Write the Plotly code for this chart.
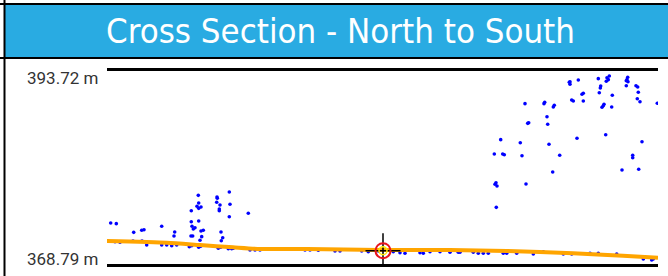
import plotly.graph_objects as go

# ---------------- data ----------------
# elevation range of the section (m)
elev_top = 393.72
elev_bottom = 368.79
dist_max = 551  # section length (m)

# vegetation / returns above ground (left cluster)
veg_left_dist = [3.7, 9.3, 26.7, 34.7, 37.0, 54.7, 67.7, 67.0, 84.3, 91.3, 91.7, 90.0, 91.7, 94.0,
                 84.3, 91.7, 85.0, 86.3, 88.0, 94.0, 96.3, 84.0, 85.7, 94.7, 93.0, 110.0, 110.3,
                 109.7, 113.0, 112.3, 112.3, 122.3, 123.0, 122.3, 114.0, 115.7, 114.3, 141.3]
veg_left_elev = [374.09, 374.00, 372.88, 373.14, 373.22, 373.66, 372.92, 372.41, 375.67, 377.66,
                 376.67, 376.24, 375.98, 376.15, 374.25, 374.34, 373.66, 373.31, 373.48, 373.05,
                 373.14, 372.41, 372.41, 372.32, 371.85, 377.44, 377.28, 376.76, 376.41, 375.89,
                 375.67, 378.09, 376.50, 374.90, 372.92, 372.19, 371.80, 375.34]

# vegetation / returns above ground (right cluster)
veg_right_dist = [462.3, 418.0, 437.0, 437.7, 446.3, 447.3, 440.0, 421.7, 420.7, 440.7, 393.7,
                  413.3, 442.0, 463.0, 463.0, 471.3, 491.3, 502.3, 500.0, 501.3, 499.3, 493.7,
                  493.3, 492.3, 520.7, 520.0, 521.0, 519.3, 519.3, 529.0, 530.7, 531.3, 476.3,
                  475.0, 505.3, 464.7, 466.3, 476.3, 530.3, 533.0, 550.3, 497.0, 496.3, 495.0,
                  504.7, 470.0, 498.7, 535.0, 387.3, 395.7, 397.3, 415.0, 452.7, 525.7, 525.7,
                  445.7, 515.0, 531.7, 389.0, 388.0, 390.0, 419.0, 389.3]
veg_right_elev = [392.26, 389.50, 389.50, 389.68, 389.07, 389.29, 387.82, 387.04, 386.96, 386.84,
                  384.85, 384.46, 384.25, 392.34, 392.00, 392.56, 392.73, 393.07, 392.85, 392.60,
                  392.39, 391.78, 391.52, 390.92, 392.91, 392.60, 392.34, 392.47, 391.82, 391.82,
                  391.65, 390.97, 390.84, 390.71, 390.58, 389.97, 389.85, 389.85, 390.14, 389.75,
                  389.55, 389.42, 389.24, 389.03, 389.07, 385.03, 385.49, 384.59, 383.00, 383.00,
                  382.91, 382.78, 382.83, 382.83, 382.52, 380.67, 380.93, 381.02, 379.29, 379.09,
                  378.87, 379.12, 376.11]

# ground returns
ground_dist = [1.0, 8.0, 13.0, 26.0, 35.0, 39.7, 54.7, 59.7, 64.7, 69.7, 82.3, 84.7, 91.7, 93.7,
               111.3, 113.7, 121.3, 124.7, 126.3, 143.0, 148.0, 153.0, 169.7, 174.7, 181.3, 198.0,
               203.0, 211.3, 228.0, 233.0, 254.7, 261.3, 271.3, 286.3, 293.0, 298.0, 313.0, 316.3,
               323.0, 333.0, 343.0, 351.3, 353.0, 366.3, 371.3, 376.3, 381.3, 396.3, 399.7, 409.7,
               426.3, 436.3, 456.3, 464.7, 483.0, 491.3, 509.7, 536.3, 544.7, 546.3]
ground_elev = [371.76, 371.67, 371.59, 371.76, 371.76, 371.24, 371.24, 371.24, 371.15, 371.24,
               371.03, 371.15, 370.95, 371.08, 370.82, 370.95, 370.77, 370.77, 370.82, 370.60,
               370.60, 370.60, 370.73, 370.73, 370.69, 370.60, 370.60, 370.56, 370.47, 370.47,
               370.47, 370.38, 370.47, 370.38, 370.25, 370.17, 370.25, 370.17, 370.38, 370.38,
               370.30, 370.30, 370.30, 370.30, 370.17, 370.17, 370.17, 370.17, 370.17, 370.17,
               370.08, 370.38, 370.08, 370.08, 370.17, 370.17, 370.08, 369.44, 369.31, 369.44]

# terrain profile line
profile_dist = [0, 60, 93, 126, 153, 200, 273, 343, 400, 466, 516, 551]
profile_elev = [371.76, 371.54, 371.24, 370.95, 370.73, 370.73, 370.60, 370.60, 370.47, 370.17,
                369.86, 369.60]

# current location marker
target_dist = [276]
target_elev = [370.51]

title_text = "Cross Section - North to South"
label_top = "393.72 m"
label_bottom = "368.79 m"

# ---------------- figure ----------------
W, H = 668, 276
x_dom = [107 / W, 658 / W]
y_dom = [(H - 264) / H, (H - 71) / H]

fig = go.Figure()

pts_x = veg_left_dist + veg_right_dist + ground_dist
pts_y = veg_left_elev + veg_right_elev + ground_elev
fig.add_trace(go.Scatter(x=pts_x, y=pts_y, mode="markers",
                         marker=dict(color="#0000FF", size=3.6, line=dict(width=0)),
                         hoverinfo="skip", showlegend=False))

fig.add_trace(go.Scatter(x=profile_dist, y=profile_elev, mode="lines",
                         line=dict(color="#FFA500", width=4, shape="spline", smoothing=0.6),
                         hoverinfo="skip", showlegend=False))

# target: crosshair, red ring, yellow ring
fig.add_trace(go.Scatter(x=target_dist, y=target_elev, mode="markers",
                         marker=dict(symbol="cross-thin-open", size=25, color="black",
                                     line=dict(color="black", width=1.5)),
                         hoverinfo="skip", showlegend=False))
fig.add_trace(go.Scatter(x=target_dist, y=target_elev, mode="markers",
                         marker=dict(symbol="circle-open", size=15, color="#E8141C",
                                     line=dict(color="#E8141C", width=2)),
                         hoverinfo="skip", showlegend=False))
fig.add_trace(go.Scatter(x=target_dist, y=target_elev, mode="markers",
                         marker=dict(symbol="circle-open", size=8, color="#FFE800",
                                     line=dict(color="#FFE800", width=1.5)),
                         hoverinfo="skip", showlegend=False))

fig.update_xaxes(domain=x_dom, range=[0, dist_max], showgrid=False, zeroline=False,
                 showticklabels=False, ticks="", showline=True, linecolor="black",
                 linewidth=3, mirror=True)
fig.update_yaxes(domain=y_dom, range=[elev_bottom, elev_top], showgrid=False, zeroline=False,
                 showticklabels=False, ticks="", showline=False)

shapes = [
    # header band
    dict(type="rect", xref="paper", yref="paper", x0=5 / W, x1=1, y0=1 - 57.5 / H, y1=1 - 4.5 / H,
         fillcolor="#29ABE2", line=dict(width=0), layer="below"),
    # header frame lines
    dict(type="line", xref="paper", yref="paper", x0=0, x1=1, y0=1 - 4 / H, y1=1 - 4 / H,
         line=dict(color="black", width=2)),
    dict(type="line", xref="paper", yref="paper", x0=0, x1=1, y0=1 - 58 / H, y1=1 - 58 / H,
         line=dict(color="black", width=2)),
    # left frame
    dict(type="line", xref="paper", yref="paper", x0=4.5 / W, x1=4.5 / W, y0=0, y1=1,
         line=dict(color="black", width=2)),
]

annotations = [
    dict(text=title_text, xref="paper", yref="paper", x=340 / W, y=1 - 31 / H,
         xanchor="center", yanchor="middle", showarrow=False,
         font=dict(family="Liberation Sans Narrow, DejaVu Sans Condensed, Arial Narrow", size=34.5,
                   color="white")),
    dict(text=label_top, xref="paper", yref="y", x=100 / W, y=elev_top, xanchor="right",
         yanchor="middle", yshift=-7, showarrow=False,
         font=dict(family="Roboto", size=17, color="#333333")),
    dict(text=label_bottom, xref="paper", yref="y", x=100 / W, y=elev_bottom, xanchor="right",
         yanchor="middle", yshift=5, showarrow=False,
         font=dict(family="Roboto", size=17, color="#333333")),
]

fig.update_layout(width=W, height=H, margin=dict(l=0, r=0, t=0, b=0),
                  paper_bgcolor="white", plot_bgcolor="white",
                  shapes=shapes, annotations=annotations, showlegend=False)

fig.write_html("out.html", config={"displayModeBar": False},
               post_script="document.body.style.margin='0';")
